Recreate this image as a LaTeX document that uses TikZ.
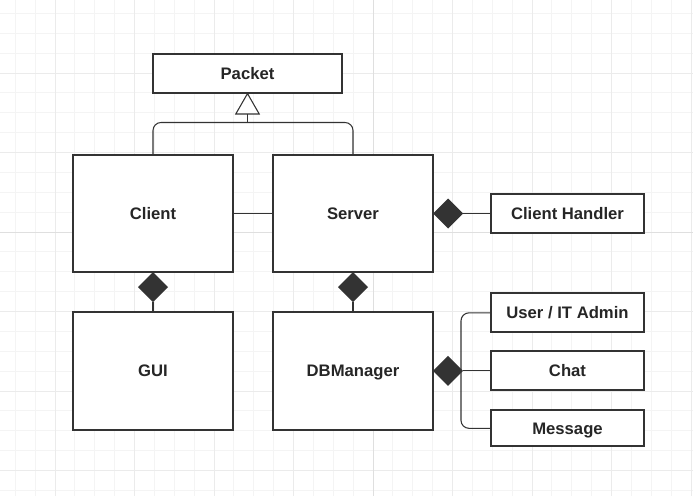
\documentclass[tikz,border=0pt]{standalone}
\usepackage{fontspec}
\setmainfont{Liberation Sans}
\usetikzlibrary{arrows.meta,positioning,shapes.geometric}
\definecolor{ink}{HTML}{333333}
\begin{document}
\begin{tikzpicture}[x=0.75pt, y=-0.75pt,
  node distance=30pt, every node/.style={outer sep=0pt},
  cls/.style={draw=ink, line width=1.5pt, fill=white, text=black!85,
              font=\bfseries\fontsize{12.5}{14}\selectfont, inner sep=0pt,
              text height=9pt, text depth=0pt,
              minimum width=120pt, minimum height=88pt},
  small/.style={cls, minimum width=114.75pt, minimum height=29.25pt},
  comp/.style={diamond, fill=ink, draw=none, inner sep=0pt,
               minimum width=22.5pt, minimum height=22.5pt},
  link/.style={draw=ink, line width=0.8pt},
  inh/.style={link, -{Triangle[open, length=16.5pt, width=18.75pt, fill=white]}}]
\useasboundingbox (0,0) rectangle (693,496);
% grid paper
\fill[white] (0,0) rectangle (693,496);
\foreach \i in {-19,...,16}
  \draw[gray!9, line width=0.75pt] ({373+19.875*\i},0) -- ++(0,496);
\foreach \i in {-12,...,13}
  \draw[gray!9, line width=0.75pt] (0,{232+19.875*\i}) -- ++(693,0);
\foreach \i in {-4,...,4}
  \draw[gray!16, line width=0.75pt] ({373+79.5*\i},0) -- ++(0,496);
\foreach \i in {-3,...,3}
  \draw[gray!16, line width=0.75pt] (0,{232+79.5*\i}) -- ++(693,0);
\draw[gray!25, line width=0.75pt] (373,0) -- (373,496) (0,232) -- (693,232);
% classes
\node[cls, minimum width=141.75pt, minimum height=29.25pt] (packet) at (247.5,73) {Packet};
\node[cls] (client) at (153,213.5) {Client};
\node[cls, right=of client] (server) {Server};
\node[cls, below=of client] (gui) {GUI};
\node[cls, below=of server] (db) {DBManager};
\node[comp, anchor=north] (cgui) at (client.south) {};
\node[comp, anchor=north] (sdb) at (server.south) {};
\node[comp, anchor=west] (shand) at (server.east) {};
\node[comp, anchor=west] (ddb) at (db.east) {};
\node[small, right=21pt of shand] (hand) {Client Handler};
\node[small, right=21pt of ddb] (chat) {Chat};
\node[small, above=14.25pt of chat] (user) {User / IT Admin};
\node[small, below=15pt of chat, minimum height=27pt] (msg) {Message};
% associations
\coordinate[below=22.5pt of packet] (jn);
\draw[link, rounded corners=6pt] (client.north) |- (jn) -| (server.north);
\draw[inh] (jn) -- (packet);
\draw[link] (client) -- (server);
\draw[link] (cgui) -- (gui);
\draw[link] (sdb) -- (db);
\draw[link] (shand) -- (hand);
\draw[link] (ddb) -- (chat);
\draw[link, rounded corners=6pt] (user.west) -| ([xshift=-1.5pt]ddb.east) |- (msg.west);
\end{tikzpicture}
\end{document}
